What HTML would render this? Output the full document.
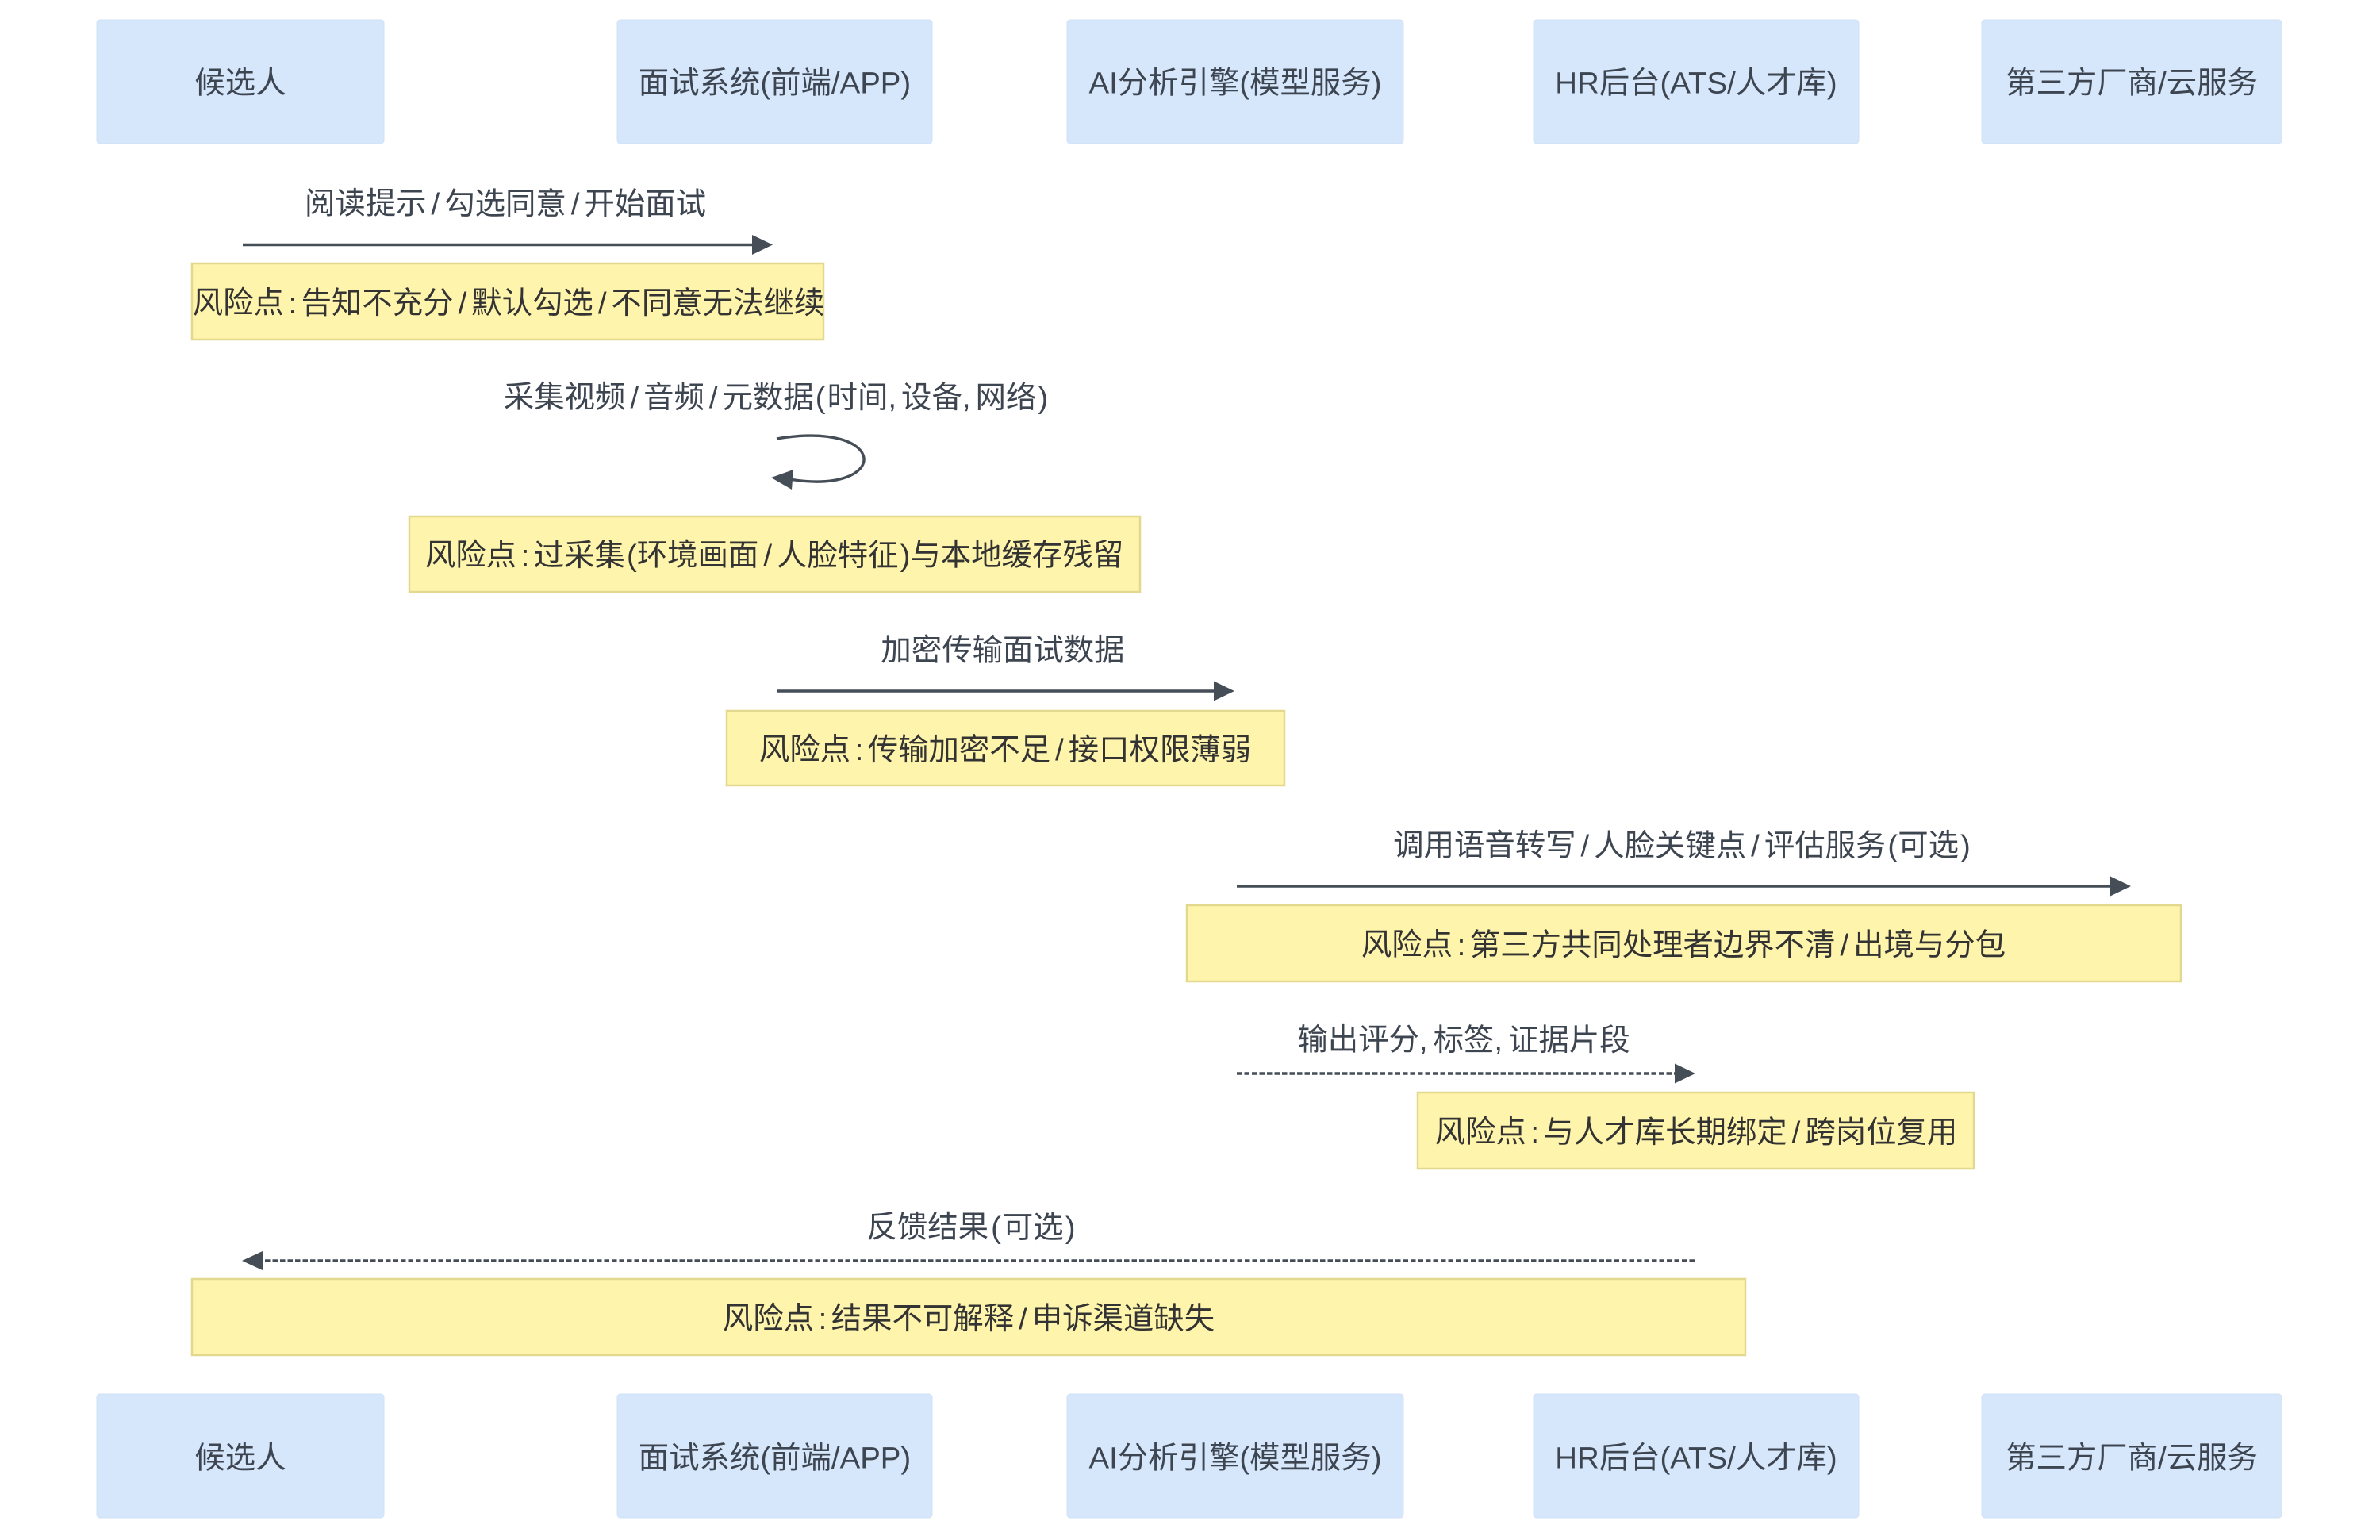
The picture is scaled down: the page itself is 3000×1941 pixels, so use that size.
<!DOCTYPE html>
<html>
<head>
<meta charset="utf-8">
<style>
  html, body { margin:0; padding:0; background:#ffffff; }
  svg { display:block; }
  text { font-family: "Liberation Sans", "Noto Sans CJK SC", sans-serif; font-size:38.4px; }
  .actor { fill:#d6e6fb; stroke:#d0e0f6; stroke-width:1; }
  .atext { fill:#3d4550; text-anchor:middle; dominant-baseline:central; }
  .mtext { fill:#3d4550; text-anchor:middle; dominant-baseline:central; }
  .note { fill:#fef4ac; stroke:#e2d98e; stroke-width:2.5; }
  .ntext { fill:#333333; text-anchor:middle; dominant-baseline:central; }
  .line { stroke:#454d57; stroke-width:3.4; fill:none; }
  .dash { stroke:#454d57; stroke-width:3.4; fill:none; stroke-dasharray:6.5,3; }
  .head { fill:#454d57; }
</style>
</head>
<body>
<svg width="3000" height="1941" viewBox="0 0 3000 1941" xmlns="http://www.w3.org/2000/svg">
  <rect x="0" y="0" width="3000" height="1941" fill="#ffffff"/>

  <!-- Top actors -->
  <rect class="actor" x="122" y="25" width="362" height="156" rx="4"/>
  <text class="atext" x="303" y="105">候选人</text>
  <rect class="actor" x="778" y="25" width="397" height="156" rx="4"/>
  <text class="atext" x="976.5" y="105">面试系统(前端/APP)</text>
  <rect class="actor" x="1345" y="25" width="424" height="156" rx="4"/>
  <text class="atext" x="1557" y="105">AI分析引擎(模型服务)</text>
  <rect class="actor" x="1933" y="25" width="410" height="156" rx="4"/>
  <text class="atext" x="2138" y="105">HR后台(ATS/人才库)</text>
  <rect class="actor" x="2498" y="25" width="378" height="156" rx="4"/>
  <text class="atext" x="2687" y="105">第三方厂商/云服务</text>

  <!-- Message 1 -->
  <text class="mtext" x="637" y="257">阅读提示<tspan dx="6">/</tspan><tspan dx="6">勾选同意</tspan><tspan dx="6">/</tspan><tspan dx="6">开始面试</tspan></text>
  <line class="line" x1="306" y1="308.5" x2="950" y2="308.5"/>
  <polygon class="head" points="948,296 974,308.5 948,321"/>
  <rect class="note" x="242" y="332" width="796" height="96"/>
  <text class="ntext" x="641" y="382">风险点<tspan dx="5.5">:</tspan><tspan dx="5.5">告知不充分</tspan><tspan dx="6">/</tspan><tspan dx="6">默认勾选</tspan><tspan dx="6">/</tspan><tspan dx="6">不同意无法继续</tspan></text>

  <!-- Message 2 (self) -->
  <text class="mtext" x="978" y="501">采集视频<tspan dx="6">/</tspan><tspan dx="6">音频</tspan><tspan dx="6">/</tspan><tspan dx="6">元数据</tspan><tspan dx="2">(</tspan><tspan dx="2">时间</tspan>,<tspan dx="6">设备</tspan>,<tspan dx="6">网络</tspan><tspan dx="2">)</tspan></text>
  <path class="line" d="M 979 553 C 1123 529, 1123 625, 995 604"/>
  <polygon class="head" points="972,602 1000,592 998,617"/>
  <rect class="note" x="516" y="651" width="921" height="95"/>
  <text class="ntext" x="976" y="700">风险点<tspan dx="5.5">:</tspan><tspan dx="5.5">过采集</tspan><tspan dx="2">(</tspan>环境画面<tspan dx="6">/</tspan><tspan dx="6">人脸特征</tspan><tspan dx="2">)</tspan>与本地缓存残留</text>

  <!-- Message 3 -->
  <text class="mtext" x="1264" y="820">加密传输面试数据</text>
  <line class="line" x1="979" y1="871" x2="1532" y2="871"/>
  <polygon class="head" points="1530,858.5 1556,871 1530,883.5"/>
  <rect class="note" x="916" y="896" width="703" height="94"/>
  <text class="ntext" x="1267" y="945">风险点<tspan dx="5.5">:</tspan><tspan dx="5.5">传输加密不足</tspan><tspan dx="6">/</tspan><tspan dx="6">接口权限薄弱</tspan></text>

  <!-- Message 4 -->
  <text class="mtext" x="2120" y="1066">调用语音转写<tspan dx="6">/</tspan><tspan dx="6">人脸关键点</tspan><tspan dx="6">/</tspan><tspan dx="6">评估服务</tspan><tspan dx="2">(</tspan>可选<tspan dx="2">)</tspan></text>
  <line class="line" x1="1559" y1="1117" x2="2662" y2="1117"/>
  <polygon class="head" points="2660,1104.5 2686,1117 2660,1129.5"/>
  <rect class="note" x="1496" y="1141" width="1253" height="96"/>
  <text class="ntext" x="2122" y="1191">风险点<tspan dx="5.5">:</tspan><tspan dx="5.5">第三方共同处理者边界不清</tspan><tspan dx="6">/</tspan><tspan dx="6">出境与分包</tspan></text>

  <!-- Message 5 (dashed) -->
  <text class="mtext" x="1845" y="1311">输出评分,<tspan dx="7">标签</tspan>,<tspan dx="7">证据片段</tspan></text>
  <line class="dash" x1="1559" y1="1353" x2="2113" y2="1353"/>
  <polygon class="head" points="2111,1340.5 2137,1353 2111,1365.5"/>
  <rect class="note" x="1787" y="1377" width="701" height="96"/>
  <text class="ntext" x="2138" y="1427">风险点<tspan dx="5.5">:</tspan><tspan dx="5.5">与人才库长期绑定</tspan><tspan dx="6">/</tspan><tspan dx="6">跨岗位复用</tspan></text>

  <!-- Message 6 (dashed, leftward) -->
  <text class="mtext" x="1224" y="1547">反馈结果<tspan dx="3">(</tspan><tspan dx="2">可选</tspan><tspan dx="2">)</tspan></text>
  <line class="dash" x1="2136" y1="1589" x2="330" y2="1589"/>
  <polygon class="head" points="332,1576.5 305,1589 332,1601.5"/>
  <rect class="note" x="242" y="1612" width="1958" height="96"/>
  <text class="ntext" x="1221" y="1662">风险点<tspan dx="5.5">:</tspan><tspan dx="5.5">结果不可解释</tspan><tspan dx="6">/</tspan><tspan dx="6">申诉渠道缺失</tspan></text>

  <!-- Bottom actors -->
  <rect class="actor" x="122" y="1757" width="362" height="156" rx="4"/>
  <text class="atext" x="303" y="1838">候选人</text>
  <rect class="actor" x="778" y="1757" width="397" height="156" rx="4"/>
  <text class="atext" x="976.5" y="1838">面试系统(前端/APP)</text>
  <rect class="actor" x="1345" y="1757" width="424" height="156" rx="4"/>
  <text class="atext" x="1557" y="1838">AI分析引擎(模型服务)</text>
  <rect class="actor" x="1933" y="1757" width="410" height="156" rx="4"/>
  <text class="atext" x="2138" y="1838">HR后台(ATS/人才库)</text>
  <rect class="actor" x="2498" y="1757" width="378" height="156" rx="4"/>
  <text class="atext" x="2687" y="1838">第三方厂商/云服务</text>
</svg>
</body>
</html>
